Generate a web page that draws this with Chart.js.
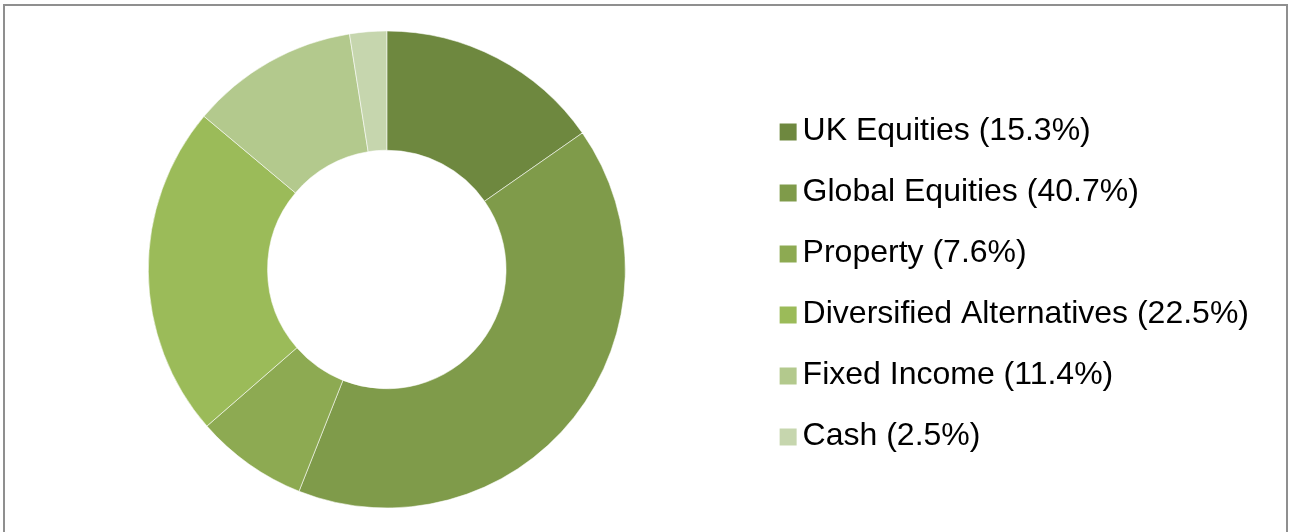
<!DOCTYPE html>
<html>
<head>
<meta charset="utf-8">
<script src="https://cdn.jsdelivr.net/npm/chart.js@4"></script>
<style>
  html, body { margin: 0; padding: 0; background: #fff; overflow: hidden; }
  #frame { position: absolute; left: 3px; top: 4px; width: 1281px; height: 560px; border: 2px solid #8f8f8f; }
  #myChart { position: absolute; left: 0; top: 0; }
</style>
</head>
<body>
<div id="frame"></div>
<canvas id="myChart" width="1290" height="532"></canvas>
<script>
// asset classes and their share (%)
const labels = ['UK Equities', 'Global Equities', 'Property', 'Diversified Alternatives', 'Fixed Income', 'Cash'];
const values = [15.3, 40.7, 7.6, 22.5, 11.4, 2.5];
const colors = ['#6e883f', '#7f9b4a', '#8daa52', '#9bbb59', '#b3c98d', '#c6d6ae'];

// legend square drawn as an image so it can sit closer to the text
function legendSquare(color) {
  const c = document.createElement('canvas');
  c.width = 23;
  c.height = 32;
  const g = c.getContext('2d');
  g.fillStyle = color;
  g.fillRect(5, 8, 17, 17);
  return c;
}

const data = {
  labels: labels,
  datasets: [{
    data: values,
    backgroundColor: colors,
    borderColor: 'rgba(255,255,255,0.55)',
    borderWidth: 1,
    clip: false
  }]
};

const config = {
  type: 'doughnut',
  data: data,
  options: {
    responsive: false,
    animation: false,
    devicePixelRatio: 1,
    cutout: '50%',
    layout: { padding: { left: 17, right: 31, top: 30.5, bottom: 23.5 } },
    plugins: {
      tooltip: { enabled: false },
      legend: {
        position: 'right',
        title: { display: true, text: '', font: { size: 1, lineHeight: 1 }, padding: { top: 28, bottom: 0 } },
        labels: {
          usePointStyle: true,
          pointStyleWidth: 1,
          padding: 29,
          color: '#000',
          font: { family: '"Liberation Sans", Arial, sans-serif', size: 32 },
          generateLabels: function(chart) {
            return labels.map(function(l, i) {
              return {
                text: l + ' (' + values[i].toFixed(1) + '%)',
                fillStyle: colors[i],
                strokeStyle: colors[i],
                fontColor: '#000',
                lineWidth: 0,
                pointStyle: legendSquare(colors[i]),
                hidden: false,
                index: i
              };
            });
          }
        }
      }
    }
  }
};

const myChart = new Chart(document.getElementById('myChart'), config);
</script>
</body>
</html>
